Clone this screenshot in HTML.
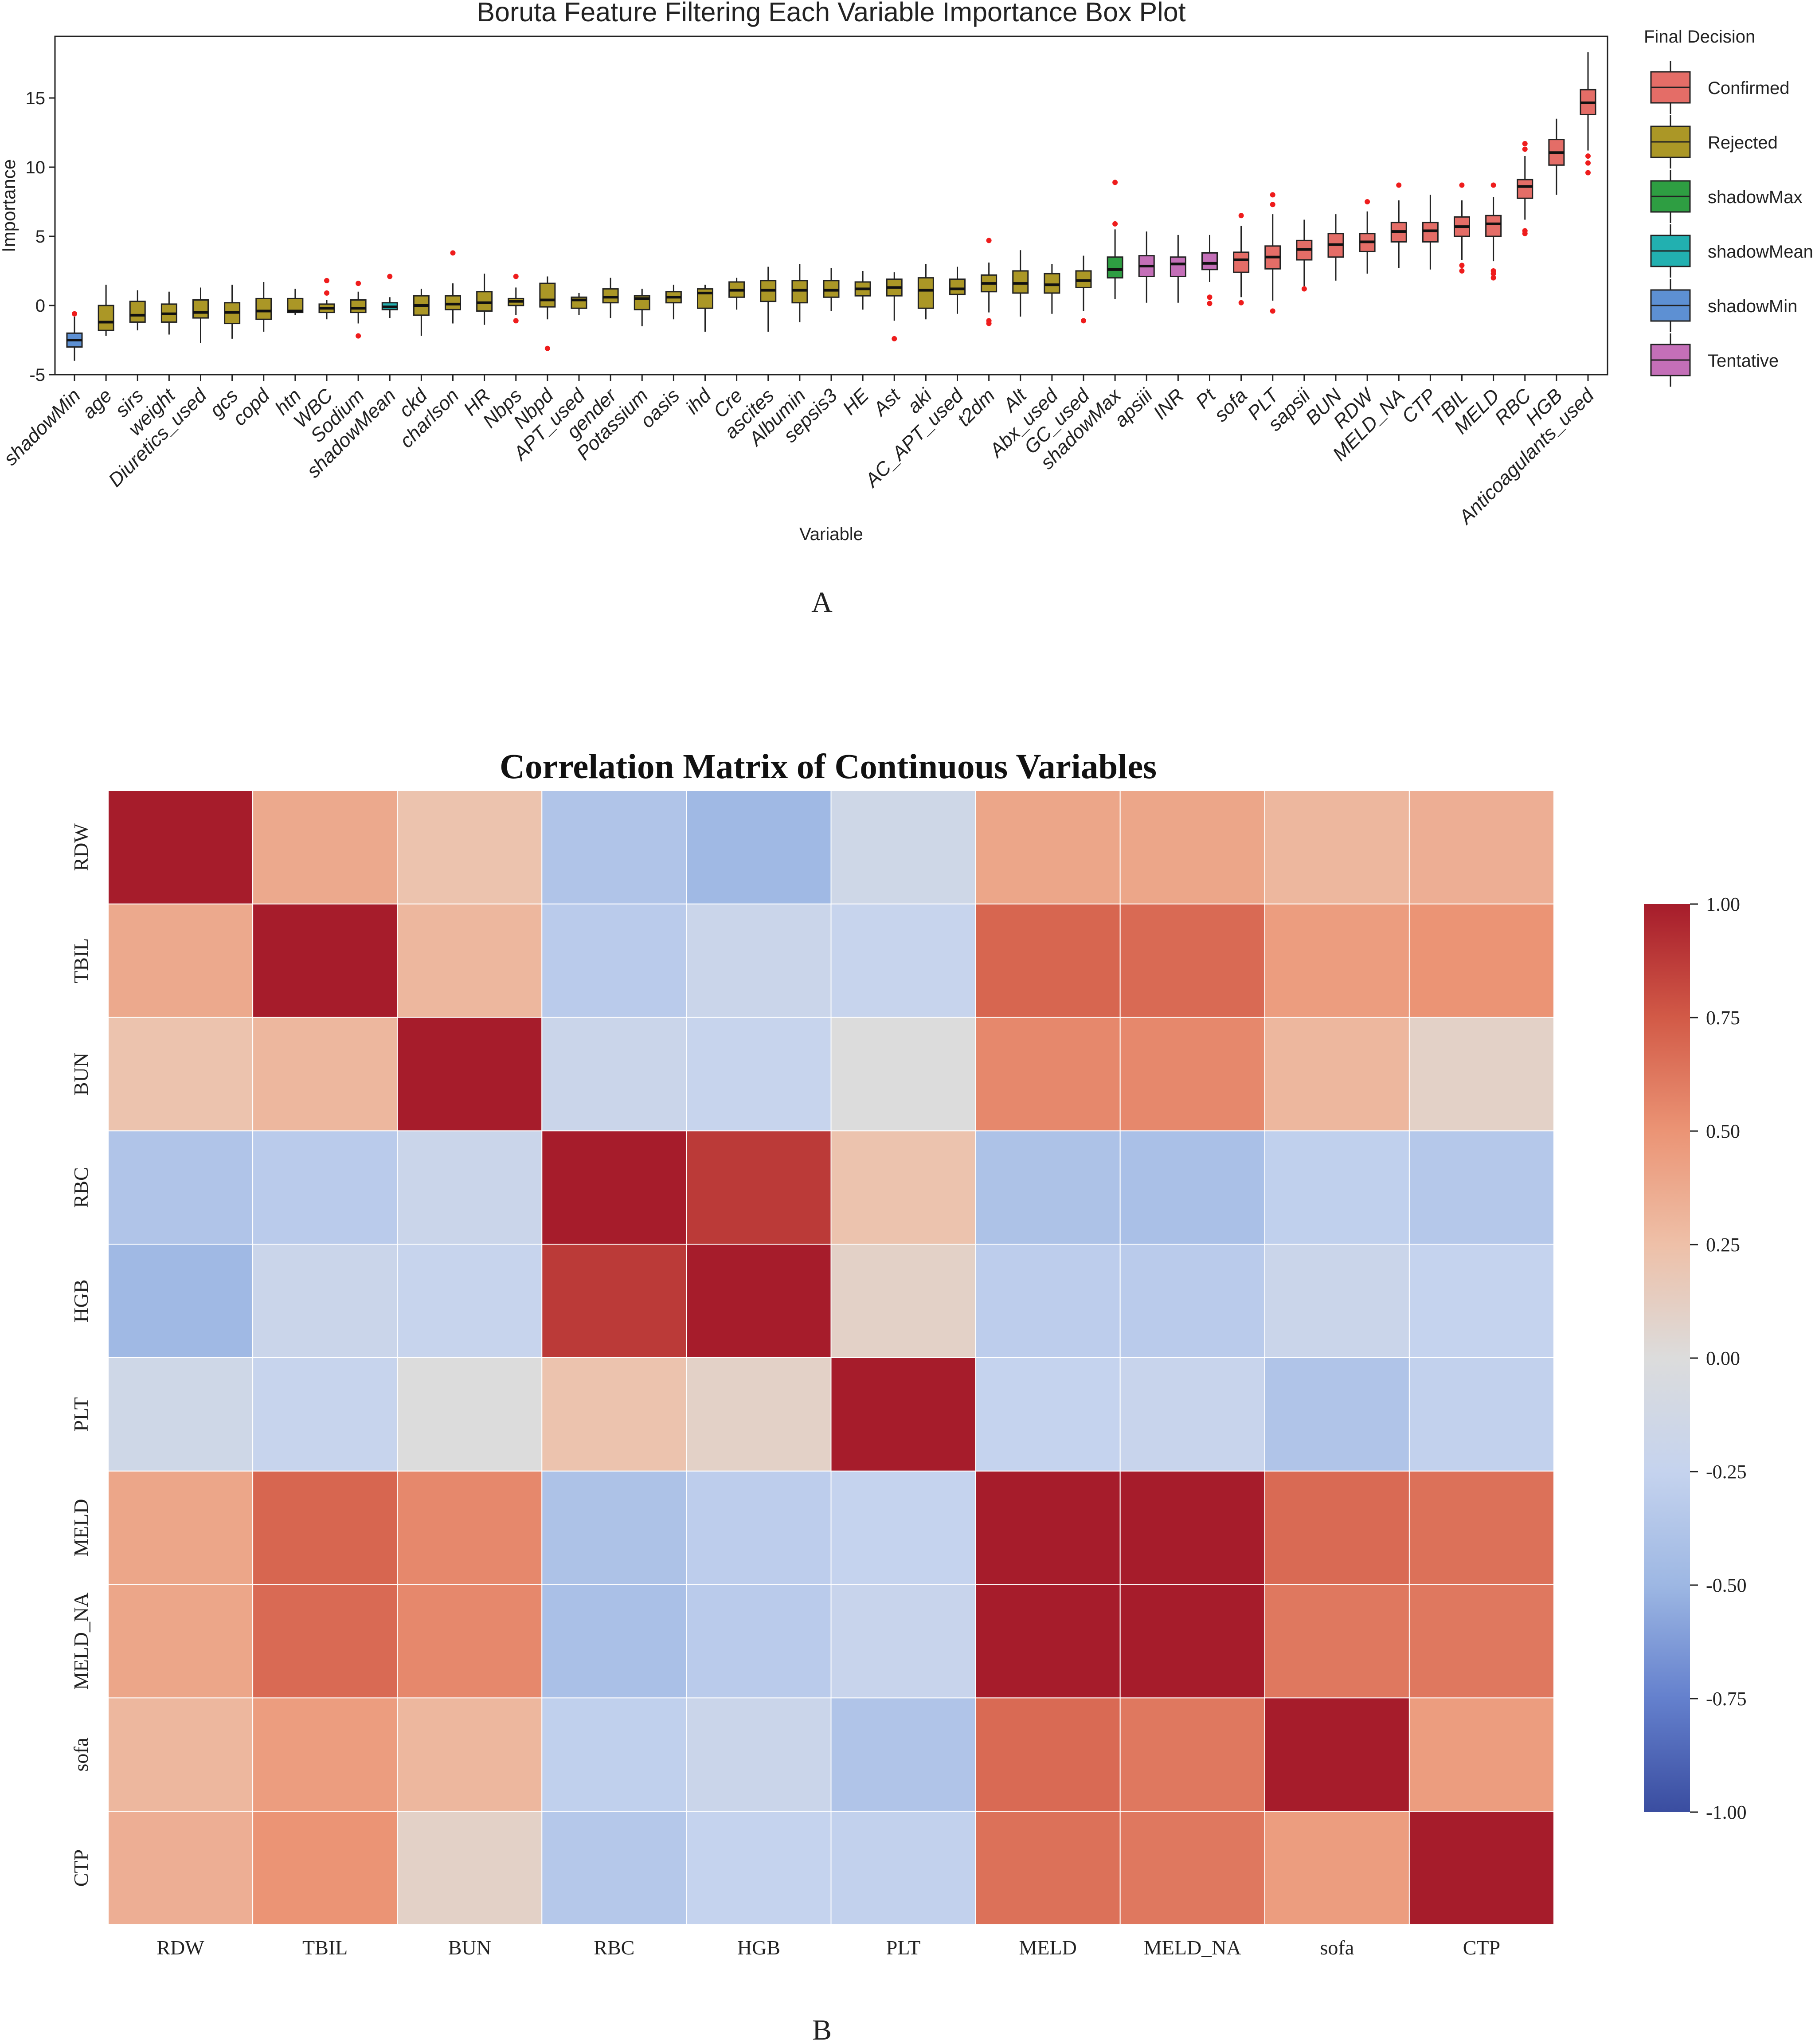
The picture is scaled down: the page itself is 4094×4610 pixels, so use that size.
<!DOCTYPE html>
<html><head><meta charset="utf-8">
<style>
html,body{margin:0;padding:0;background:#fff;}
svg{display:block;}
</style></head>
<body>
<svg id="root" width="4094" height="4610" viewBox="0 0 4094 4610" xmlns="http://www.w3.org/2000/svg">
<rect x="0" y="0" width="4094" height="4610" fill="#fff"/>
<g id="boxplot"></g>
<g id="heatmap"></g>
</svg>
<script>
// ---------- Box plot data ----------
const variables = ["shadowMin","age","sirs","weight","Diuretics_used","gcs","copd","htn","WBC","Sodium","shadowMean","ckd","charlson","HR","Nbps","Nbpd","APT_used","gender","Potassium","oasis","ihd","Cre","ascites","Albumin","sepsis3","HE","Ast","aki","AC_APT_used","t2dm","Alt","Abx_used","GC_used","shadowMax","apsiii","INR","Pt","sofa","PLT","sapsii","BUN","RDW","MELD_NA","CTP","TBIL","MELD","RBC","HGB","Anticoagulants_used"];
const decisions = ["shadowMin","Rejected","Rejected","Rejected","Rejected","Rejected","Rejected","Rejected","Rejected","Rejected","shadowMean","Rejected","Rejected","Rejected","Rejected","Rejected","Rejected","Rejected","Rejected","Rejected","Rejected","Rejected","Rejected","Rejected","Rejected","Rejected","Rejected","Rejected","Rejected","Rejected","Rejected","Rejected","Rejected","shadowMax","Tentative","Tentative","Tentative","Confirmed","Confirmed","Confirmed","Confirmed","Confirmed","Confirmed","Confirmed","Confirmed","Confirmed","Confirmed","Confirmed","Confirmed"];
const medians = [-2.5,-1.2,-0.7,-0.6,-0.5,-0.5,-0.4,-0.4,-0.2,-0.2,-0.1,0,0.1,0.2,0.3,0.4,0.4,0.6,0.5,0.6,0.9,1.1,1.1,1.1,1.1,1.2,1.3,1.1,1.2,1.6,1.6,1.5,1.8,2.6,2.85,3.0,3.05,3.3,3.5,4.05,4.4,4.6,5.35,5.4,5.7,5.9,8.6,11.05,14.65];
const q1s = [-3,-1.8,-1.2,-1.2,-0.9,-1.3,-1,-0.5,-0.5,-0.5,-0.3,-0.7,-0.3,-0.4,0,-0.1,-0.2,0.2,-0.3,0.2,-0.2,0.6,0.3,0.2,0.6,0.7,0.7,-0.2,0.8,1.0,0.9,0.9,1.3,2.0,2.1,2.1,2.6,2.4,2.65,3.3,3.5,3.9,4.6,4.6,5.0,5.0,7.75,10.15,13.8];
const q3s = [-2,0,0.3,0.1,0.4,0.2,0.5,0.5,0.1,0.4,0.2,0.7,0.7,1.0,0.5,1.6,0.6,1.2,0.7,1.0,1.2,1.7,1.8,1.8,1.8,1.7,1.9,2.0,1.9,2.2,2.5,2.3,2.5,3.5,3.6,3.5,3.8,3.85,4.3,4.7,5.2,5.2,6.0,6.0,6.4,6.5,9.1,12.0,15.6];
const whiskLo = [-4,-2.2,-1.8,-2.1,-2.7,-2.4,-1.9,-0.7,-1,-1.3,-0.9,-2.2,-1.3,-1.4,-0.7,-1,-0.7,-0.9,-1.5,-1.0,-1.9,-0.3,-1.9,-1.2,-0.4,-0.3,-1.1,-1.0,-0.6,-0.5,-0.8,-0.6,-0.4,0.45,0.2,0.2,1.7,0.6,0.35,1.4,1.8,2.3,2.7,2.6,3.3,3.2,6.2,8.0,11.2];
const whiskHi = [-0.8,1.5,1.1,1.0,1.3,1.5,1.7,1.2,0.4,1.0,0.6,1.2,1.6,2.3,1.3,2.1,0.9,2.0,1.2,1.5,1.5,2.0,2.8,3.0,2.7,2.5,2.4,3.0,2.8,3.1,4.0,3.0,3.6,5.5,5.35,5.1,5.1,5.75,6.6,6.2,6.6,6.8,7.6,8.0,7.6,7.85,10.8,13.5,18.3];
const outliers = [[-0.6],[],[],[],[],[],[],[],[0.9,1.8],[1.6,-2.2],[2.1],[],[3.8],[],[2.1,-1.1],[-3.1],[],[],[],[],[],[],[],[],[],[],[-2.4],[],[],[4.7,-1.1,-1.3],[],[],[-1.1],[8.9,5.9],[],[],[0.6,0.15],[6.5,0.2],[8.0,7.3,-0.4],[1.2],[],[7.5],[8.7],[],[8.7,2.9,2.5],[8.7,2.5,2.3,2.0],[11.7,11.3,5.4,5.2],[],[10.8,10.3,9.6]];
const yTicks = [-5,0,5,10,15];
const legendLabels = ["Confirmed","Rejected","shadowMax","shadowMean","shadowMin","Tentative"];

// ---------- Heatmap data ----------
const corrVars = ["RDW","TBIL","BUN","RBC","HGB","PLT","MELD","MELD_NA","sofa","CTP"];
const corrRows = [
 [1,0.38,0.22,-0.38,-0.48,-0.15,0.4,0.4,0.3,0.35],
 [0.38,1,0.3,-0.32,-0.2,-0.23,0.7,0.68,0.45,0.5],
 [0.22,0.3,1,-0.2,-0.23,0,0.55,0.55,0.3,0.1],
 [-0.38,-0.32,-0.2,1,0.88,0.22,-0.4,-0.42,-0.28,-0.35],
 [-0.48,-0.2,-0.23,0.88,1,0.1,-0.3,-0.32,-0.2,-0.25],
 [-0.15,-0.23,0,0.22,0.1,1,-0.25,-0.22,-0.38,-0.27],
 [0.4,0.7,0.55,-0.4,-0.3,-0.25,1,1,0.68,0.65],
 [0.4,0.68,0.55,-0.42,-0.32,-0.22,1,1,0.62,0.62],
 [0.3,0.45,0.3,-0.28,-0.2,-0.38,0.68,0.62,1,0.45],
 [0.35,0.5,0.1,-0.35,-0.25,-0.27,0.65,0.62,0.45,1]
];
const cbTicks = [1,0.75,0.5,0.25,0,-0.25,-0.5,-0.75,-1];

const NS = "http://www.w3.org/2000/svg";
function mk(tag, attrs, parent){const e=document.createElementNS(NS,tag);for(const k in attrs)e.setAttribute(k,attrs[k]);parent.appendChild(e);return e;}
const colors = {Confirmed:"#E46D67",Rejected:"#AB9726",shadowMax:"#2E9E42",shadowMean:"#22B0B0",shadowMin:"#5D90D3",Tentative:"#C46FB8"};
const SANS='"Liberation Sans", sans-serif';
const SERIF='"Liberation Serif", serif';

// ---------- Box plot ----------
const bp = document.getElementById("boxplot");
const PL=124, PR=3626, PT=82, PB=845;
const x0=168, dx=(3582-168)/(variables.length-1);
const xS = i => x0 + i*dx;
const yS = v => 689 - v*31.2;

let t = mk("text",{x:1875,y:48,"font-family":SANS,"font-size":61,"text-anchor":"middle",fill:"#222"},bp);
t.textContent="Boruta Feature Filtering Each Variable Importance Box Plot";



let fr = mk("rect",{x:PL,y:PT,width:PR-PL,height:PB-PT,fill:"none",stroke:"#222","stroke-width":3},bp);



yTicks.forEach(v=>{
  const y=yS(v);
  mk("line",{x1:PL-14,x2:PL,y1:y,y2:y,stroke:"#222","stroke-width":3},bp);
  const tl = mk("text",{x:PL-22,y:y+14,"font-family":SANS,"font-size":40,"text-anchor":"end",fill:"#222"},bp);
  tl.textContent=String(v);
  
  
});
t = mk("text",{x:0,y:0,"font-family":SANS,"font-size":42,"text-anchor":"middle",fill:"#222",transform:"translate(34,464) rotate(-90)"},bp);
t.textContent="Importance";



const bw = 17;
variables.forEach((name,i)=>{
  const g = mk("g",{},bp);
  
  
  const x=xS(i), c=colors[decisions[i]];
  mk("line",{x1:x,x2:x,y1:yS(whiskHi[i]),y2:yS(whiskLo[i]),stroke:"#222","stroke-width":3},g);
  mk("rect",{x:x-bw,y:yS(q3s[i]),width:2*bw,height:yS(q1s[i])-yS(q3s[i]),fill:c,stroke:"#222","stroke-width":3},g);
  mk("line",{x1:x-bw,x2:x+bw,y1:yS(medians[i]),y2:yS(medians[i]),stroke:"#111","stroke-width":6},g);
  outliers[i].forEach(o=>{
    const p = mk("circle",{cx:x,cy:yS(o),r:6,fill:"#EE1C1C"},g);
    
    
  });
  mk("line",{x1:x,x2:x,y1:PB,y2:PB+14,stroke:"#222","stroke-width":3},bp);
  const lab = mk("text",{x:0,y:0,"font-family":SANS,"font-size":44,"font-style":"italic","text-anchor":"end",fill:"#222",transform:`translate(${x+16},${PB+50}) rotate(-45)`},bp);
  lab.textContent=name;
  
  
});
t = mk("text",{x:1875,y:1218,"font-family":SANS,"font-size":40,"text-anchor":"middle",fill:"#222"},bp);
t.textContent="Variable";



// legend
t = mk("text",{x:3708,y:96,"font-family":SANS,"font-size":40,fill:"#222"},bp);
t.textContent="Final Decision";


legendLabels.forEach((lab,k)=>{
  const g = mk("g",{},bp);
  
  
  const cy = 197 + k*123;
  mk("line",{x1:3768,x2:3768,y1:cy-60,y2:cy+60,stroke:"#222","stroke-width":3},g);
  mk("rect",{x:3724,y:cy-35,width:88,height:70,fill:colors[lab],stroke:"#222","stroke-width":3},g);
  mk("line",{x1:3724,x2:3812,y1:cy,y2:cy,stroke:"#222","stroke-width":3},g);
  const tx = mk("text",{x:3852,y:cy+15,"font-family":SANS,"font-size":40,fill:"#222"},g);
  tx.textContent=lab;
});
t = mk("text",{x:1854,y:1380,"font-family":SERIF,"font-size":66,"text-anchor":"middle",fill:"#222"},bp);
t.textContent="A";



// ---------- Heatmap ----------
const hm = document.getElementById("heatmap");
const HL=244, HR=3505, HT=1783, HB=4341;
const n=corrVars.length, cw=(HR-HL)/n, ch=(HB-HT)/n;
const stops=[[-1,[58,77,160]],[-0.75,[100,128,205]],[-0.5,[157,183,227]],[-0.25,[197,211,238]],[0,[220,220,220]],[0.25,[238,192,168]],[0.5,[235,148,117]],[0.75,[210,90,71]],[1,[166,28,43]]];
function cmap(v){
  v=Math.max(-1,Math.min(1,v));
  for(let i=0;i<stops.length-1;i++){
    const [a,ca]=stops[i],[b,cb]=stops[i+1];
    if(v>=a&&v<=b){const f=(v-a)/(b-a);return `rgb(${ca.map((c,j)=>Math.round(c+(cb[j]-c)*f)).join(',')})`;}
  }
  return "rgb(166,28,43)";
}
t = mk("text",{x:1868,y:1755,"font-family":SERIF,"font-size":79,"font-weight":"bold","text-anchor":"middle",fill:"#111"},hm);
t.textContent="Correlation Matrix of Continuous Variables";



corrRows.forEach((row,r)=>{
  row.forEach((v,c)=>{
    const cell = mk("rect",{x:HL+c*cw,y:HT+r*ch,width:cw,height:ch,fill:cmap(v),stroke:"#fff","stroke-width":2},hm);
    
    
  });
});
corrVars.forEach((name,i)=>{
  const xl = mk("text",{x:HL+(i+0.5)*cw,y:4408,"font-family":SERIF,"font-size":46,"text-anchor":"middle",fill:"#222"},hm);
  xl.textContent=name;
  
  
  const cy = HT+(i+0.5)*ch;
  const yl = mk("text",{x:0,y:0,"font-family":SERIF,"font-size":46,"text-anchor":"middle",fill:"#222",transform:`translate(198,${cy}) rotate(-90)`},hm);
  yl.textContent=name;
  
  
});

// colorbar
const CBL=3708, CBR=3812, CBT=2039, CBB=4087;
const defs = mk("defs",{},hm);
const grad = mk("linearGradient",{id:"cbgrad",x1:0,y1:1,x2:0,y2:0},defs);
stops.forEach(([v,c])=>mk("stop",{offset:((v+1)/2),"stop-color":`rgb(${c.join(',')})`},grad));
const cb = mk("rect",{x:CBL,y:CBT,width:CBR-CBL,height:CBB-CBT,fill:"url(#cbgrad)"},hm);


const cbY = v => CBT + (1-v)/2*(CBB-CBT);
cbTicks.forEach(v=>{
  const y=cbY(v);
  mk("line",{x1:CBR,x2:CBR+18,y1:y,y2:y,stroke:"#222","stroke-width":3},hm);
  const tl = mk("text",{x:3848,y:y+15,"font-family":SERIF,"font-size":44,fill:"#222"},hm);
  tl.textContent=v.toFixed(2);
  
  
});
t = mk("text",{x:1854,y:4600,"font-family":SERIF,"font-size":66,"text-anchor":"middle",fill:"#222"},hm);
t.textContent="B";


</script>
</body></html>
